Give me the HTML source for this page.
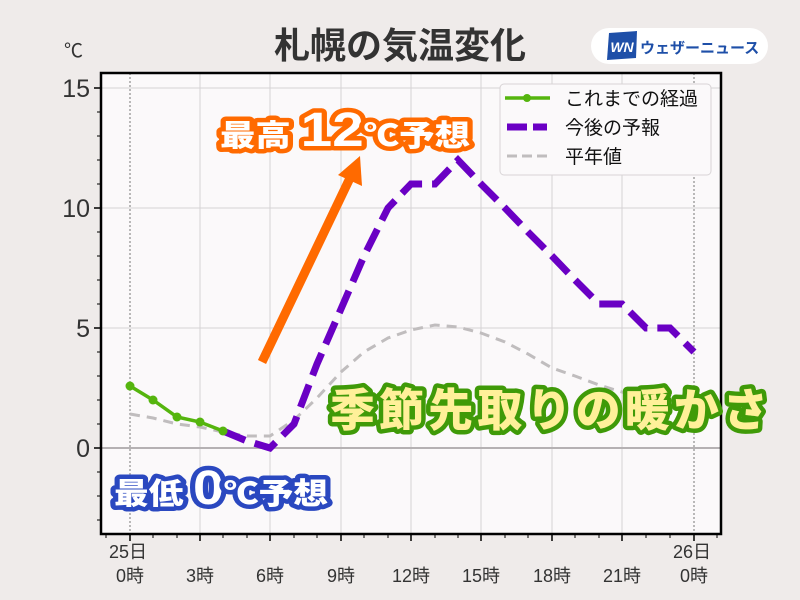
<!DOCTYPE html>
<html><head><meta charset="utf-8"><style>
html,body{margin:0;padding:0;background:#efebea;}
svg{display:block;font-family:"Liberation Sans","Noto Sans CJK JP",sans-serif;}
.big{font-weight:900;paint-order:stroke;stroke-linejoin:round;}
</style></head><body>
<svg width="800" height="600" viewBox="0 0 800 600" xmlns="http://www.w3.org/2000/svg">
<rect x="0" y="0" width="800" height="600" fill="#efebea"/>
<rect x="101" y="73" width="620" height="461" fill="#fbf9fa"/>
<g stroke="#d6d2d4" stroke-width="1">
<line x1="200" y1="73" x2="200" y2="534"/><line x1="270" y1="73" x2="270" y2="534"/>
<line x1="341" y1="73" x2="341" y2="534"/><line x1="411" y1="73" x2="411" y2="534"/>
<line x1="481" y1="73" x2="481" y2="534"/><line x1="552" y1="73" x2="552" y2="534"/>
<line x1="622" y1="73" x2="622" y2="534"/>
<line x1="101" y1="88" x2="721" y2="88"/><line x1="101" y1="208" x2="721" y2="208"/>
<line x1="101" y1="328" x2="721" y2="328"/>
</g>
<line x1="101" y1="448" x2="721" y2="448" stroke="#b5b1b3" stroke-width="2"/>
<g stroke="#777" stroke-width="1" stroke-dasharray="2,2">
<line x1="130" y1="73" x2="130" y2="534"/><line x1="694" y1="73" x2="694" y2="534"/>
</g>
<polyline fill="none" stroke="#c0bdbe" stroke-width="3" stroke-dasharray="10,7" points="130,414 153,418 177,424 200,427 223,432 247,436 270,436 294,420 317,398 341,372 364,352 388,338 411,330 435,325 458,327 481,333 505,342 528,354 552,368 575,376 599,385 622,392 646,398 670,404 694,412"/>
<polyline fill="none" stroke="#6a00c4" stroke-width="7" stroke-dasharray="24,10" points="223,431 247,441 270,448 294,424 317,364 341,309 364,256 388,208 411,184 435,184 458,160 481,184 505,208 528,232 552,256 575,280 599,304 622,304 646,328 670,328 694,352"/>
<polyline fill="none" stroke="#55b50e" stroke-width="3.5" points="130,386 153,400 177,417 200,422 223,431"/>
<g fill="#55b50e"><circle cx="130" cy="386" r="4.5"/><circle cx="153" cy="400" r="4.5"/><circle cx="177" cy="417" r="4.5"/><circle cx="200" cy="422" r="4.5"/><circle cx="223" cy="431" r="4.5"/></g>
<rect x="101" y="73" width="620" height="461" fill="none" stroke="#000" stroke-width="2.5"/>
<g stroke="#000" stroke-width="1.5">
<line x1="94" y1="88" x2="101" y2="88"/><line x1="94" y1="208" x2="101" y2="208"/><line x1="94" y1="328" x2="101" y2="328"/><line x1="94" y1="448" x2="101" y2="448"/>
</g>
<g stroke="#000" stroke-width="1">
<line x1="97" y1="112" x2="101" y2="112"/><line x1="97" y1="136" x2="101" y2="136"/><line x1="97" y1="160" x2="101" y2="160"/><line x1="97" y1="184" x2="101" y2="184"/>
<line x1="97" y1="232" x2="101" y2="232"/><line x1="97" y1="256" x2="101" y2="256"/><line x1="97" y1="280" x2="101" y2="280"/><line x1="97" y1="304" x2="101" y2="304"/>
<line x1="97" y1="352" x2="101" y2="352"/><line x1="97" y1="376" x2="101" y2="376"/><line x1="97" y1="400" x2="101" y2="400"/><line x1="97" y1="424" x2="101" y2="424"/>
<line x1="97" y1="472" x2="101" y2="472"/><line x1="97" y1="496" x2="101" y2="496"/><line x1="97" y1="520" x2="101" y2="520"/>
</g>
<g stroke="#000" stroke-width="1.5">
<line x1="130" y1="534" x2="130" y2="541"/><line x1="200" y1="534" x2="200" y2="541"/><line x1="270" y1="534" x2="270" y2="541"/><line x1="341" y1="534" x2="341" y2="541"/><line x1="411" y1="534" x2="411" y2="541"/><line x1="481" y1="534" x2="481" y2="541"/><line x1="552" y1="534" x2="552" y2="541"/><line x1="622" y1="534" x2="622" y2="541"/><line x1="694" y1="534" x2="694" y2="541"/>
</g>
<g stroke="#000" stroke-width="1">
<line x1="106" y1="534" x2="106" y2="538"/><line x1="153" y1="534" x2="153" y2="538"/><line x1="177" y1="534" x2="177" y2="538"/><line x1="223" y1="534" x2="223" y2="538"/><line x1="247" y1="534" x2="247" y2="538"/><line x1="294" y1="534" x2="294" y2="538"/><line x1="317" y1="534" x2="317" y2="538"/><line x1="364" y1="534" x2="364" y2="538"/><line x1="388" y1="534" x2="388" y2="538"/><line x1="435" y1="534" x2="435" y2="538"/><line x1="458" y1="534" x2="458" y2="538"/><line x1="505" y1="534" x2="505" y2="538"/><line x1="528" y1="534" x2="528" y2="538"/><line x1="575" y1="534" x2="575" y2="538"/><line x1="599" y1="534" x2="599" y2="538"/><line x1="646" y1="534" x2="646" y2="538"/><line x1="670" y1="534" x2="670" y2="538"/><line x1="717" y1="534" x2="717" y2="538"/>
</g>
<g fill="#333" font-size="25" text-anchor="end">
<text x="90" y="97">15</text><text x="90" y="217">10</text><text x="90" y="337">5</text><text x="90" y="457">0</text>
</g>
<text x="64" y="57" fill="#333" font-size="19">℃</text>
<g fill="#333" font-size="18" text-anchor="middle">
<text x="128" y="558">25日</text><text x="130" y="582">0時</text>
<text x="200" y="582">3時</text><text x="270" y="582">6時</text><text x="341" y="582">9時</text>
<text x="411" y="582">12時</text><text x="481" y="582">15時</text><text x="552" y="582">18時</text>
<text x="622" y="582">21時</text><text x="692" y="558">26日</text><text x="694" y="582">0時</text>
</g>
<text x="400" y="58" text-anchor="middle" fill="#333" font-size="36" font-weight="bold">札幌の気温変化</text>
<rect x="591" y="28" width="177" height="36" rx="18" fill="#fff"/>
<polygon points="609,33 637,31 636,58 607,60" fill="#1e4fa8"/>
<text x="622" y="52" text-anchor="middle" fill="#fff" font-size="14" font-weight="bold" font-style="italic">WN</text>
<text x="640" y="53" fill="#1e4fa8" font-size="15" font-weight="bold">ウェザーニュース</text>
<rect x="500" y="84" width="211" height="91" rx="4" fill="#fbf9fa" stroke="#d8d4d6"/>
<line x1="505" y1="98" x2="550" y2="98" stroke="#55b50e" stroke-width="3.5"/><circle cx="527" cy="98" r="4" fill="#55b50e"/>
<line x1="507" y1="127" x2="547" y2="127" stroke="#6a00c4" stroke-width="7" stroke-dasharray="20,6"/>
<line x1="507" y1="156" x2="547" y2="156" stroke="#c0bdbe" stroke-width="3" stroke-dasharray="10,5"/>
<g fill="#111" font-size="19"><text x="565" y="105">これまでの経過</text><text x="565" y="134">今後の予報</text><text x="565" y="163">平年値</text></g>
<line x1="262" y1="362" x2="350" y2="178" stroke="#ff6a00" stroke-width="9"/>
<polygon points="360,156 362,186 338,175" fill="#ff6a00"/>
<text class="big" x="220" y="146" font-size="30" fill="#fff" stroke="#ff6a00" stroke-width="9" textLength="250" lengthAdjust="spacingAndGlyphs">最高 <tspan font-size="48">12</tspan>℃予想</text>
<text class="big" x="114" y="504" font-size="30" fill="#fff" stroke="#2a48c0" stroke-width="9" textLength="214" lengthAdjust="spacingAndGlyphs">最低 <tspan font-size="48">0</tspan>℃予想</text>
<text class="big" x="330" y="426" font-size="45" fill="#fff099" stroke="#3f9a08" stroke-width="9" textLength="438">季節先取りの暖かさ</text>
</svg>
</body></html>
